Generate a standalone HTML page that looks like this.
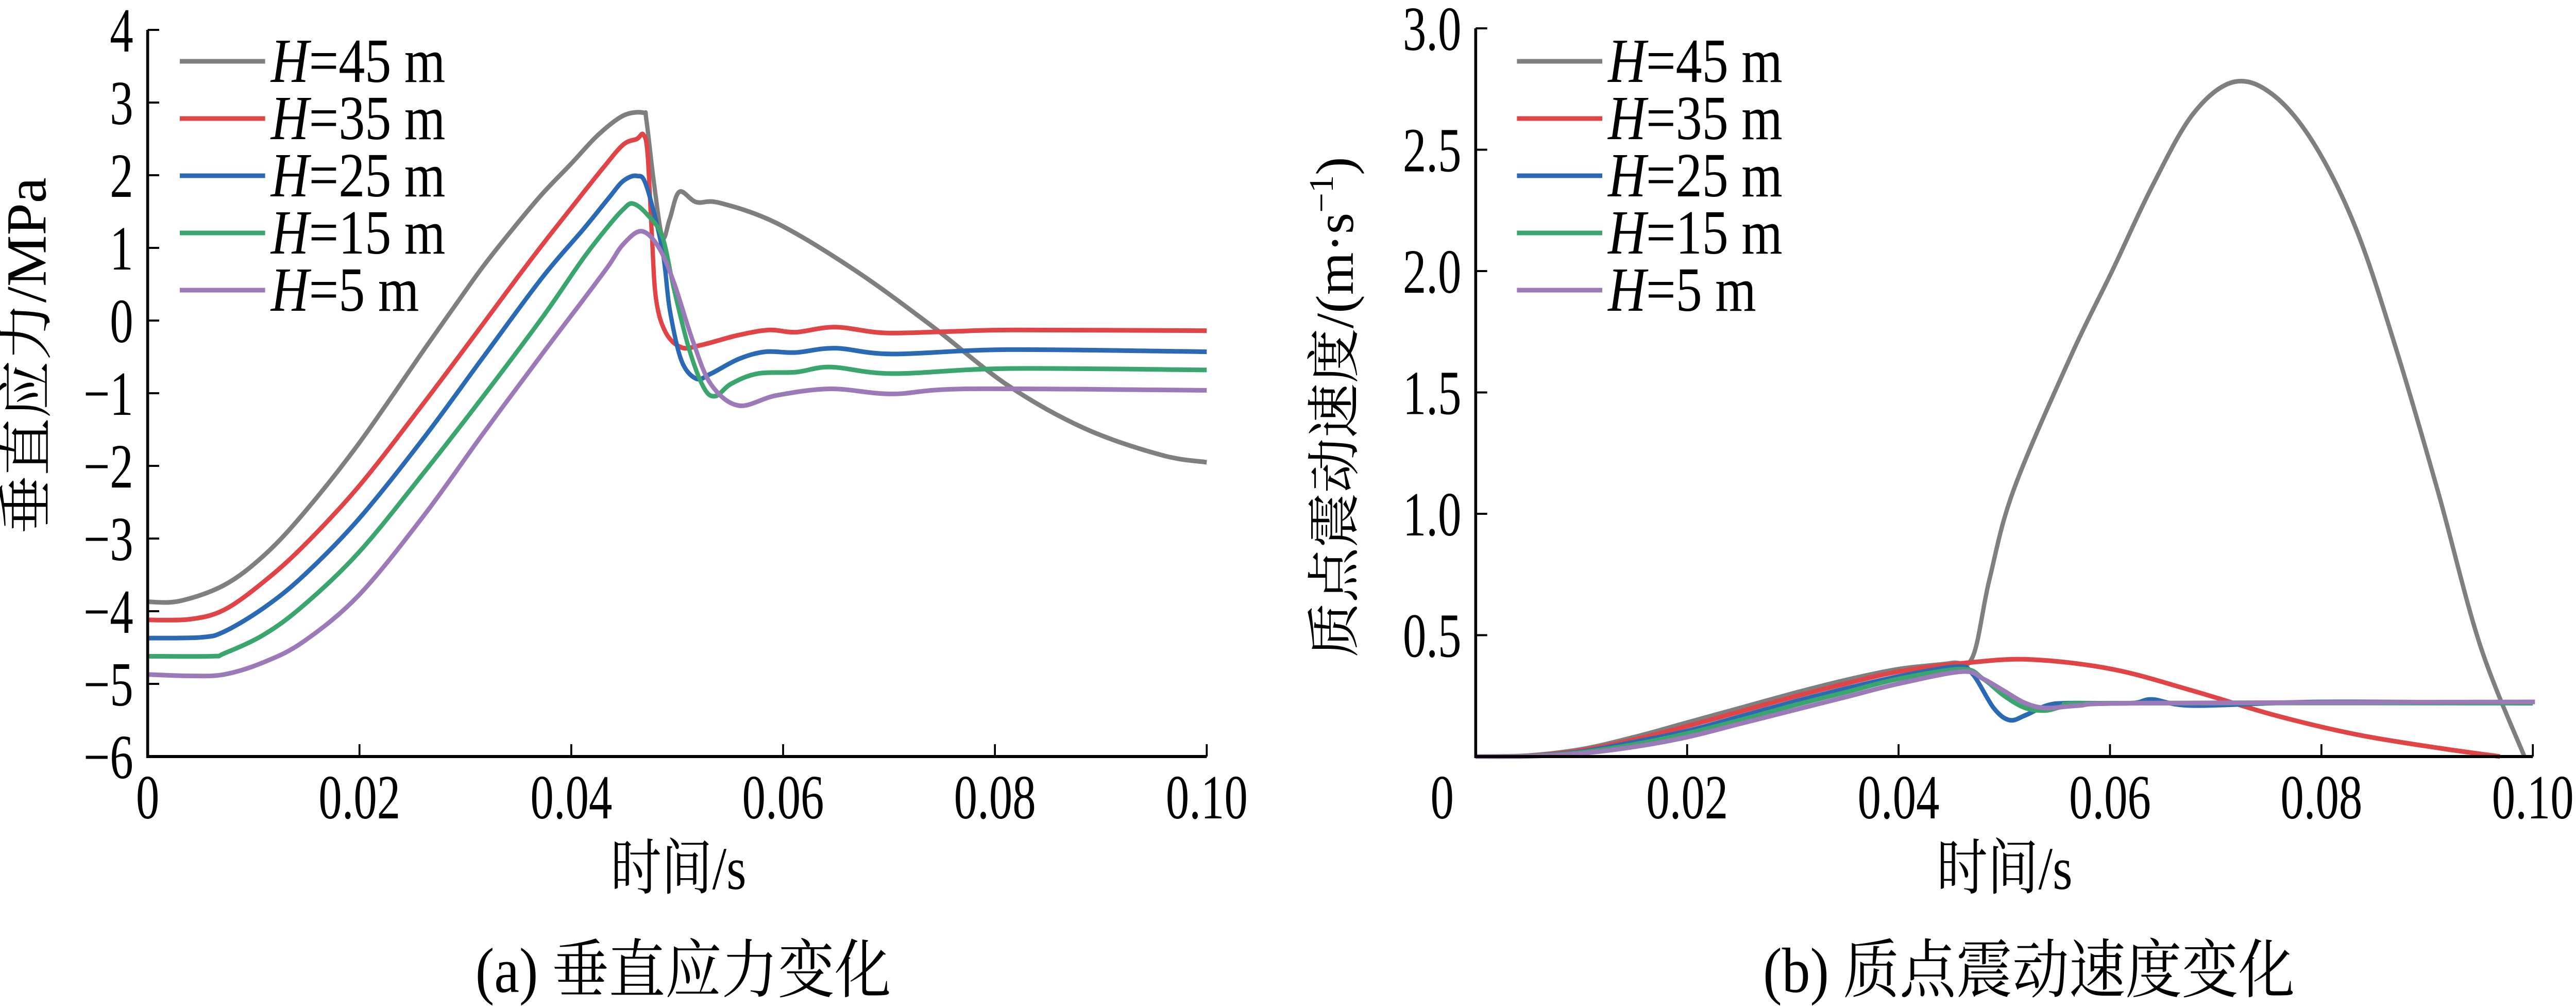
<!DOCTYPE html>
<html><head><meta charset="utf-8"><style>
html,body{margin:0;padding:0;background:#fff;overflow:hidden;width:100vw;height:100vh;}
svg{display:block;width:100vw;height:100vh;}
text{font-family:"Liberation Serif","Noto Serif CJK SC","Noto Sans CJK SC",serif;fill:#000;}
</style></head><body>
<svg id="fig" viewBox="0 0 5373 1954" preserveAspectRatio="none" xmlns="http://www.w3.org/2000/svg">
<g id="chartA"></g>
<g id="chartB"></g>
</svg>
<script>
const seriesLabels = ["45","35","25","15","5"];
const seriesColors = ["#7f7f7f","#e04446","#2a6ab4","#3aa56c","#9c7ab8"];
const aXTicks = [0,0.02,0.04,0.06,0.08,0.10];
const aXTickLabels = ["0","0.02","0.04","0.06","0.08","0.10"];
const aYTicks = [4,3,2,1,0,-1,-2,-3,-4,-5,-6];
const aYTickLabels = ["4","3","2","1","0","\u22121","\u22122","\u22123","\u22124","\u22125","\u22126"];
const bYTicks = [0.5,1.0,1.5,2.0,2.5,3.0];
const bYTickLabels = ["0.5","1.0","1.5","2.0","2.5","3.0"];

const aGray = [[0,-3.87],[0.003,-3.86],[0.00724,-3.64],[0.011,-3.23],[0.0148,-2.64],[0.02,-1.68],[0.0261,-0.4],[0.029,0.2],[0.0317,0.75],[0.0347,1.3],[0.0373,1.75],[0.04,2.16],[0.0425,2.55],[0.0449,2.82],[0.0468,2.86],[0.0471,2.75],[0.0478,1.9],[0.0486,1.15],[0.0493,1.4],[0.0502,1.77],[0.0518,1.63],[0.054,1.62],[0.0594,1.34],[0.0667,0.70],[0.074,-0.07],[0.0812,-0.89],[0.0884,-1.48],[0.0957,-1.85],[0.1,-1.95]];
const aRed = [[0,-4.12],[0.004,-4.11],[0.00724,-3.98],[0.011,-3.59],[0.0148,-3.09],[0.02,-2.27],[0.0261,-1.13],[0.0317,-0.04],[0.0347,0.55],[0.0373,1.05],[0.04,1.55],[0.043,2.1],[0.0449,2.42],[0.0462,2.5],[0.0468,2.56],[0.0472,2.3],[0.0476,1.2],[0.048,0.3],[0.0489,-0.16],[0.0504,-0.37],[0.0522,-0.34],[0.0558,-0.2],[0.0587,-0.13],[0.0612,-0.16],[0.0649,-0.09],[0.0696,-0.17],[0.0758,-0.15],[0.082,-0.13],[0.1,-0.14]];
const aBlue = [[0,-4.37],[0.005,-4.36],[0.00724,-4.28],[0.011,-3.95],[0.0148,-3.5],[0.02,-2.72],[0.0261,-1.61],[0.0317,-0.5],[0.0373,0.6],[0.0411,1.25],[0.0435,1.68],[0.0449,1.92],[0.0462,1.99],[0.0471,1.85],[0.0486,0.97],[0.0493,0.15],[0.0504,-0.55],[0.0518,-0.8],[0.0532,-0.73],[0.0558,-0.53],[0.0583,-0.43],[0.0612,-0.44],[0.0649,-0.38],[0.0703,-0.46],[0.0812,-0.4],[0.1,-0.43]];
const aGreen = [[0,-4.62],[0.006,-4.62],[0.00724,-4.58],[0.011,-4.32],[0.0148,-3.91],[0.02,-3.18],[0.0261,-2.09],[0.0317,-1.04],[0.0373,0.05],[0.0411,0.85],[0.0435,1.3],[0.0449,1.53],[0.0458,1.61],[0.0471,1.47],[0.0486,1.15],[0.0497,0.43],[0.0511,-0.38],[0.0525,-0.92],[0.0536,-1.04],[0.0551,-0.87],[0.0576,-0.73],[0.0612,-0.71],[0.0645,-0.64],[0.0703,-0.73],[0.0812,-0.66],[0.1,-0.68]];
const aPurple = [[0,-4.87],[0.004,-4.89],[0.00724,-4.87],[0.011,-4.7],[0.0148,-4.41],[0.02,-3.77],[0.0261,-2.68],[0.0317,-1.55],[0.0373,-0.45],[0.0411,0.28],[0.0435,0.75],[0.0449,1.05],[0.0466,1.23],[0.0482,1.02],[0.0497,0.52],[0.0515,-0.29],[0.0532,-0.88],[0.0558,-1.17],[0.0594,-1.03],[0.0645,-0.94],[0.0703,-1.01],[0.0775,-0.94],[0.1,-0.96]];

const bGray = [[0,0],[0.005,0.004],[0.01,0.03],[0.015,0.08],[0.02,0.14],[0.025,0.2],[0.03,0.26],[0.035,0.315],[0.04,0.36],[0.045,0.385],[0.047,0.41],[0.0486,0.73],[0.0509,1.10],[0.0563,1.65],[0.0602,2.0],[0.064,2.35],[0.0679,2.65],[0.0718,2.78],[0.0756,2.72],[0.0795,2.51],[0.0834,2.16],[0.0872,1.66],[0.0911,1.08],[0.095,0.46],[0.0992,0]];
const bRed = [[0,0],[0.005,0.003],[0.01,0.025],[0.015,0.07],[0.02,0.125],[0.025,0.185],[0.03,0.245],[0.035,0.3],[0.04,0.35],[0.0462,0.385],[0.0524,0.40],[0.0602,0.36],[0.0679,0.27],[0.0756,0.17],[0.0834,0.09],[0.0911,0.035],[0.0969,0]];
const bBlue = [[0,0],[0.005,0.002],[0.01,0.02],[0.015,0.06],[0.02,0.105],[0.025,0.165],[0.03,0.225],[0.035,0.28],[0.04,0.33],[0.0455,0.37],[0.047,0.34],[0.049,0.2],[0.0505,0.15],[0.052,0.17],[0.054,0.21],[0.056,0.22],[0.062,0.22],[0.064,0.235],[0.068,0.21],[0.08,0.225],[0.1,0.22]];
const bGreen = [[0,0],[0.005,0.002],[0.01,0.017],[0.015,0.05],[0.02,0.095],[0.025,0.15],[0.03,0.21],[0.035,0.265],[0.04,0.32],[0.046,0.36],[0.048,0.32],[0.05,0.25],[0.052,0.2],[0.054,0.19],[0.056,0.21],[0.06,0.22],[0.1,0.22]];
const bPurple = [[0,0],[0.005,0.001],[0.01,0.013],[0.015,0.04],[0.02,0.08],[0.025,0.135],[0.03,0.19],[0.035,0.245],[0.04,0.30],[0.046,0.35],[0.048,0.32],[0.05,0.27],[0.052,0.22],[0.054,0.2],[0.057,0.21],[0.063,0.22],[0.1002,0.225]];

const aSeries = [aGray,aRed,aBlue,aGreen,aPurple];
const bSeries = [bGray,bRed,bBlue,bGreen,bPurple];
const NS = "http://www.w3.org/2000/svg";
function mk(parent, tag, attrs, txt){
  const e = document.createElementNS(NS, tag);
  for (const k in attrs) e.setAttribute(k, attrs[k]);
  if (txt !== undefined) e.textContent = txt;
  parent.appendChild(e); return e;
}
function ctext(parent, x, y, size, anchor, sx, s, rot){
  const tr = "translate("+x+","+y+")"+(rot?" rotate(-90)":"")+" scale("+sx+",1)";
  return mk(parent,"text",{x:0,y:0,"font-size":size,"text-anchor":anchor,transform:tr},s);
}
function smoothPath(pts){
  let d = "M" + pts[0][0].toFixed(1) + "," + pts[0][1].toFixed(1);
  for (let i=0;i<pts.length-1;i++){
    const p0=pts[Math.max(0,i-1)], p1=pts[i], p2=pts[i+1], p3=pts[Math.min(pts.length-1,i+2)];
    const c1x=p1[0]+(p2[0]-p0[0])/6, c1y=p1[1]+(p2[1]-p0[1])/6;
    const c2x=p2[0]-(p3[0]-p1[0])/6, c2y=p2[1]-(p3[1]-p1[1])/6;
    d += " C"+c1x.toFixed(1)+","+c1y.toFixed(1)+" "+c2x.toFixed(1)+","+c2y.toFixed(1)+" "+p2[0].toFixed(1)+","+p2[1].toFixed(1);
  }
  return d;
}
function drawChart(g, cfg){
  const xS = v => cfg.x0 + (v - 0)/0.1*(cfg.x1-cfg.x0);
  const yS = v => cfg.yB - (v - cfg.vMin)/(cfg.vMax-cfg.vMin)*(cfg.yB-cfg.yT);
  cfg.series.forEach((s,i)=>{
    const p = mk(g,"path",{d:smoothPath(s.map(q=>[xS(q[0]),yS(q[1])])),fill:"none",stroke:seriesColors[i],"stroke-width":9,"stroke-linejoin":"round"});
    
    
  });
  const ax = mk(g,"path",{d:"M"+cfg.x0+","+cfg.yT+" V"+cfg.yB+" H"+cfg.x1,fill:"none",stroke:"#000","stroke-width":6});
  
  
  aXTicks.forEach((t,i)=>{
    const x = xS(t);
    if (i>0){
      const tk = mk(g,"line",{x1:x,y1:cfg.yB,x2:x,y2:cfg.yB-24,stroke:"#000","stroke-width":4});
      
      
    }
    const lb = ctext(g, x+(i===0?cfg.zeroDx:0), cfg.yB+120, 122, "middle", 0.8, aXTickLabels[i]);
    
    
  });
  cfg.yTicks.forEach((v,i)=>{
    const y = yS(v);
    const tk = mk(g,"line",{x1:cfg.x0,y1:y,x2:cfg.x0+24,y2:y,stroke:"#000","stroke-width":4});
    
    
    const lb = ctext(g, cfg.x0-30, y+42, 122, "end", 0.8, cfg.yLabels[i]);
    
    
  });
  seriesLabels.forEach((l,i)=>{
    const y = cfg.legY + i*111;
    const ln = mk(g,"line",{x1:cfg.legX,y1:y,x2:cfg.legX+178,y2:y,stroke:seriesColors[i],"stroke-width":9});
    
    
    const t = ctext(g, cfg.legX+190, y+40, 122, "start", 0.9);
    
    
    mk(t,"tspan",{"font-style":"italic"},"H");
    mk(t,"tspan",{},"="+l+" m");
  });
}
const gA = document.getElementById("chartA"), gB = document.getElementById("chartB");
drawChart(gA,{x0:308,x1:2517,yT:58,yB:1468,vMin:-6,vMax:4,series:aSeries,yTicks:aYTicks,yLabels:aYTickLabels,legX:375,legY:119,zeroDx:0});
drawChart(gB,{x0:3078,x1:5283,yT:55,yB:1468,vMin:0,vMax:3,series:bSeries,yTicks:bYTicks,yLabels:bYTickLabels,legX:3164,legY:119,zeroDx:-70});
function txt(el,name){return el;}
txt(ctext(gA,95,690,118,"middle",0.95,"垂直应力/MPa",true),'y-axis-title');
txt(ctext(gA,1415,1725,118,"middle",0.9,"时间/s"),'x-axis-title');
txt(ctext(gA,1425,1925,124,"middle",0.95,"(a)  垂直应力变化"),'caption-a');
const yb = txt(ctext(gB,2822,790,112,"middle",0.95,"质点震动速度/(m·s",true),'y-axis-title');
mk(yb,"tspan",{"font-size":72,dy:-42},"−1");
mk(yb,"tspan",{dy:42},")");
txt(ctext(gB,4181,1725,118,"middle",0.9,"时间/s"),'x-axis-title');
txt(ctext(gB,4232,1925,124,"middle",0.95,"(b)  质点震动速度变化"),'caption-b');
</script>
</body></html>
